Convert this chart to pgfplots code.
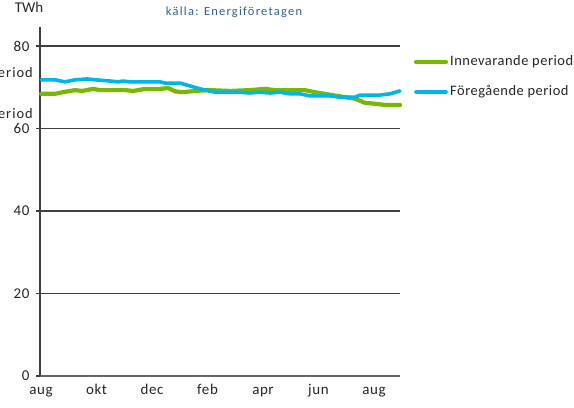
\documentclass[border=0pt]{standalone}
\usepackage{pgfplots}
\pgfplotsset{compat=1.18}
\usepackage{fontspec}
\setmainfont{Carlito}
\definecolor{cgreen}{HTML}{78B800}
\definecolor{cblue}{HTML}{00B6E4}
\definecolor{ctitle}{HTML}{2F5F98}
\definecolor{caxis}{HTML}{404040}
\newcommand{\lfont}{\fontsize{14.5}{16}\selectfont\addfontfeatures{LetterSpace=3.5}}
\newcommand{\cfont}{\fontsize{14.5}{16}\selectfont\addfontfeatures{LetterSpace=7}}
\begin{document}
\begin{tikzpicture}[x=1bp,y=1bp]
\useasboundingbox (0,0) rectangle (574,407);
\begin{axis}[
  at={(40bp,31bp)}, anchor=south west,
  scale only axis, width=360bp, height=349bp,
  xmin=-0.04, xmax=12.94, ymin=0, ymax=84.6,
  axis x line*=bottom, axis y line*=left,
  axis line style={caxis, line width=2.4pt},
  x axis line style={color=gray!80!black, line width=2pt, -},
  y axis line style={-},
  xtick={0,2,4,6,8,10,12},
  xticklabels={aug,okt,dec,feb,apr,jun,aug},
  ytick={0,20,40,60,80},
  ymajorgrids, grid style={caxis, line width=1.1pt},
  major x tick style={draw=none},
  major y tick style={caxis, line width=1.5pt},
  tick align=outside, major tick length=4bp,
  ticklabel style={font=\fontsize{15}{17}\selectfont\addfontfeatures{LetterSpace=4}, text=black!85},
  /pgf/number format/assume math mode=true,
  yticklabel style={xshift=-3bp},
  xticklabel style={text height=11bp, text depth=3bp, yshift=0bp},
  clip=false,
]
\addplot[cgreen, line width=4.2bp, line join=round, line cap=round] coordinates {
(0,68.4) (0.5,68.4) (0.86,68.9) (1.23,69.3) (1.48,69.1) (1.87,69.6) (2.13,69.3)
(3.03,69.3) (3.32,69.1) (3.75,69.6) (4.29,69.6) (4.58,69.8) (4.83,69.0) (5.08,68.8)
(5.55,69.1) (6.09,69.3) (6.81,69.1) (7.53,69.3) (8.07,69.6) (8.43,69.3) (8.97,69.3)
(9.51,69.3) (9.87,68.8) (10.23,68.4) (10.95,67.6) (11.32,67.2) (11.68,66.2)
(12.04,66.0) (12.4,65.7) (12.94,65.7)};
\addplot[cblue, line width=3.6bp, line join=round, line cap=round] coordinates {
(0,71.8) (0.5,71.8) (0.86,71.3) (1.23,71.8) (1.66,72.0) (1.95,71.8) (2.49,71.5)
(2.77,71.3) (2.95,71.5) (3.21,71.3) (4.29,71.3) (4.47,71.0) (5.01,71.0) (5.37,70.3)
(5.73,69.6) (6.27,68.8) (7.17,68.8) (7.53,68.6) (7.89,68.8) (8.25,68.6) (8.61,68.8)
(8.97,68.4) (9.33,68.4) (9.69,67.9) (10.05,67.9) (10.41,67.9) (10.77,67.6)
(11.32,67.6) (11.5,68.1) (12.22,68.1) (12.58,68.4) (12.94,69.1)};
\end{axis}
% legend
\draw[cgreen, line width=4.2bp, line cap=round] (416,345) -- (446,345);
\node[anchor=west, inner sep=0pt, font=\lfont, text=black!85] at (450,345) {Innevarande period};
\draw[cblue, line width=3.6bp, line cap=round] (416,315) -- (446,315);
\node[anchor=west, inner sep=0pt, font=\lfont, text=black!85] at (450,315) {Föregående period};
% labels cut off at the left edge
\node[anchor=east, inner sep=0pt, font=\cfont, text=black!85] at (33,333) {Föregående period};
\node[anchor=east, inner sep=0pt, font=\cfont, text=black!85] at (33,292) {Innevarande period};
% titles
\node[inner sep=0pt, font=\fontsize{15}{17}\selectfont, text=black!85] at (29,400) {TWh};
\node[inner sep=0pt, font=\fontsize{12.5}{14}\selectfont\addfontfeatures{LetterSpace=10}, text=ctitle] at (234,395) {källa: Energiföretagen};
\end{tikzpicture}
\end{document}
